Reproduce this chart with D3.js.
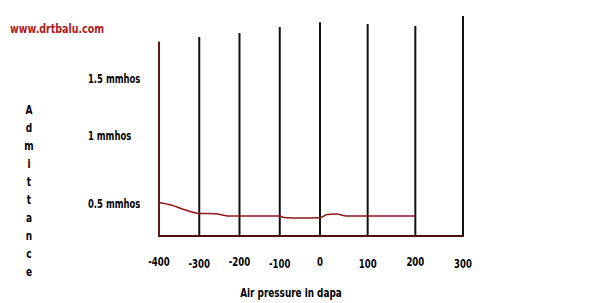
<!DOCTYPE html>
<html>
<head>
<meta charset="utf-8">
<script src="https://cdn.jsdelivr.net/npm/d3@7"></script>
<style>
  body { margin: 0; background: #fff; }
  text { font-family: "DejaVu Sans", sans-serif; font-weight: bold; }
</style>
</head>
<body>
<div id="chart"></div>
<script>
// Tympanogram: pressure in daPa, admittance in mmhos
const pressure   = [-400, -370, -340, -300, -260, -230, -200, -100, -90, -50, 0, 15, 35, 55, 200];
const admittance = [0.504, 0.485, 0.454, 0.423, 0.421, 0.405, 0.404, 0.404, 0.394, 0.39, 0.392, 0.415, 0.419, 0.404, 0.404];

// x tick values and the (hand drawn) heights of each vertical line, in mmhos
const xTicks = [-400, -300, -200, -100, 0, 100, 200, 300];
const gridTop = [1.82, 1.86, 1.895, 1.947, 1.99, 1.974, 1.956, 2.044];

// y tick values and labels
const yTicks = [0.5, 1, 1.5];
const yLabels = ["0.5 mmhos", "1 mmhos", "1.5 mmhos"];

const yTitle = "Admittance";

const width = 600;
const height = 303;
const baseY = 236;

const svg = d3.select("#chart")
  .append("svg")
    .attr("width", width)
    .attr("height", height);

// hand drawn axes are not evenly spaced, so use piecewise scales
const x = d3.scaleLinear()
    .domain([-400, 0, 300])
    .range([159, 320, 463]);

const y = d3.scaleLinear()
    .domain(yTicks)
    .range([203, 135, 78]);

// no narrow font installed, so squeeze text horizontally
function squeeze(sel, px, py, sx) {
  sel.attr("transform", (d, i) => `translate(${px(d, i)},${py(d, i)}) scale(${sx},1)`);
}

// site credit
svg.append("text")
    .attr("fill", "#b01a1a")
    .style("font-size", "13px")
    .text("www.drtbalu.com")
    .call(squeeze, () => 10, () => 33, 0.73);

// vertical lines
svg.selectAll(".vline")
  .data(xTicks)
  .enter().append("line")
    .attr("class", "vline")
    .attr("x1", d => x(d))
    .attr("x2", d => x(d))
    .attr("y1", (d, i) => y(gridTop[i]))
    .attr("y2", baseY)
    .attr("stroke", (d, i) => i == 0 ? "#6b1515" : "#111")
    .attr("stroke-width", 2);

// baseline
svg.append("line")
    .attr("x1", x(-400) - 1)
    .attr("x2", x(300) + 1)
    .attr("y1", baseY)
    .attr("y2", baseY)
    .attr("stroke", "#4a1010")
    .attr("stroke-width", 2);

// x tick labels
svg.selectAll(".xlab")
  .data(xTicks)
  .enter().append("text")
    .attr("class", "xlab")
    .attr("text-anchor", "middle")
    .style("font-size", "13px")
    .text(d => d)
    .call(squeeze, d => x(d), (d, i) => i % 2 ? 268 : 266, 0.66);

// y tick labels
svg.selectAll(".ylab")
  .data(yTicks)
  .enter().append("text")
    .attr("class", "ylab")
    .attr("dy", "0.35em")
    .style("font-size", "13px")
    .text((d, i) => yLabels[i])
    .call(squeeze, () => 88, d => y(d), 0.65);

// tympanogram curve
const line = d3.line()
    .x(d => x(d[0]))
    .y(d => y(d[1]))
    .curve(d3.curveMonotoneX);

svg.append("path")
    .datum(d3.zip(pressure, admittance))
    .attr("d", line)
    .attr("fill", "none")
    .attr("stroke", "#8b1a1a")
    .attr("stroke-width", 1.5);

// stacked y title
svg.selectAll(".ytitle")
  .data(yTitle.split(""))
  .enter().append("text")
    .attr("class", "ytitle")
    .attr("dy", "0.35em")
    .attr("text-anchor", "middle")
    .style("font-size", "12px")
    .text(d => d)
    .call(squeeze, () => 29, (d, i) => 110 + i * 18, 0.75);

// x title
svg.append("text")
    .attr("text-anchor", "middle")
    .style("font-size", "12px")
    .text("Air pressure in dapa")
    .call(squeeze, () => 291, () => 297, 0.74);
</script>
</body>
</html>
